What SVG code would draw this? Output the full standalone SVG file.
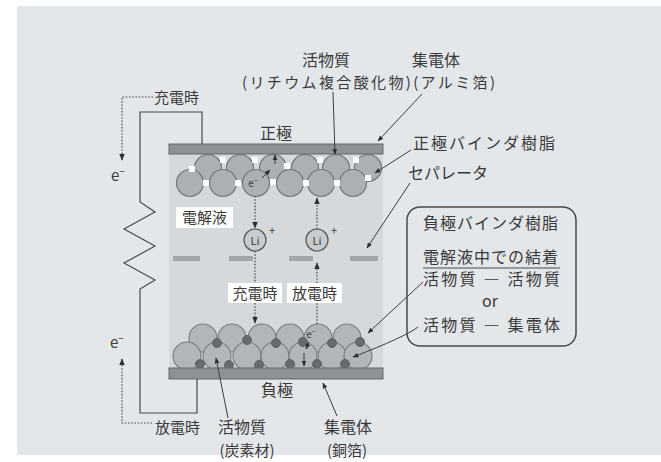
<svg xmlns="http://www.w3.org/2000/svg" width="661" height="462" viewBox="0 0 661 462">
  <defs>
    <style>
      text { font-family: "Noto Sans CJK JP", "Noto Sans", sans-serif; fill: #3a3a3a; }
      .lbl { font-size: 15px; }
      .lbl16 { font-size: 16px; }
      .box { font-size: 16px; text-anchor: middle; }
      .mid { text-anchor: middle; }
      .wire { fill: none; stroke: #4a4a4a; stroke-width: 1.2; }
      .lead { fill: none; stroke: #3d3d3d; stroke-width: 1; }
      .dot { fill: none; stroke: #4a4a4a; stroke-width: 1.2; stroke-dasharray: 1.6 1.6; }
      .bar { fill: #8f9295; stroke: #63666a; stroke-width: 1; }
      .pp { fill: #adb0b3; stroke: #74777a; stroke-width: 1.2; }
      .np { fill: #b3b6b9; stroke: #7a7d80; stroke-width: 1.2; }
      .wsq { fill: #ffffff; }
      .bind { fill: #686b6e; stroke: #55585b; stroke-width: 0.8; }
      .sep { fill: #a4a7aa; }
      .li { fill: #c9ccce; stroke: #555; stroke-width: 1.2; }
      .tag { fill: #ffffff; }
    </style>
    <marker id="arr" viewBox="0 0 10 10" refX="9" refY="5" markerWidth="6" markerHeight="6" orient="auto-start-reverse">
      <path d="M0,1 L10,5 L0,9 z" fill="#2f2f2f"/>
    </marker>
  </defs>

  <!-- backdrop -->
  <rect x="0" y="0" width="661" height="462" fill="#ffffff"/>
  <rect x="17" y="6" width="644" height="449" fill="#e4e7ea"/>

  <!-- cell body -->
  <g id="cell">
    <rect x="169" y="150" width="214" height="224" fill="#d6d9dc"/>
  </g>

  <!-- separator -->
  <g id="separator">
    <rect class="sep" x="173" y="256" width="27" height="5"/>
    <rect class="sep" x="229" y="256" width="24" height="5"/>
    <rect class="sep" x="289" y="256" width="24" height="5"/>
    <rect class="sep" x="350" y="256" width="28" height="5"/>
  </g>

  <!-- positive electrode: active material + conductive additive -->
  <g id="positive-active">
    <circle class="pp" cx="208" cy="168" r="13.5"/>
    <circle class="pp" cx="240" cy="168" r="13.5"/>
    <circle class="pp" cx="273" cy="168" r="13.5"/>
    <circle class="pp" cx="305" cy="168" r="13.5"/>
    <circle class="pp" cx="336" cy="168" r="13.5"/>
    <circle class="pp" cx="368" cy="168" r="13.5"/>
    <circle class="pp" cx="190" cy="183" r="13.5"/>
    <circle class="pp" cx="223" cy="183" r="13.5"/>
    <circle class="pp" cx="256" cy="183" r="13.5"/>
    <circle class="pp" cx="290" cy="183" r="13.5"/>
    <circle class="pp" cx="321" cy="183" r="13.5"/>
    <circle class="pp" cx="353" cy="183" r="13.5"/>
    <rect class="wsq" x="189" y="166" width="6" height="6"/>
    <rect class="wsq" x="203" y="180" width="6" height="6"/>
    <rect class="wsq" x="220" y="157" width="6" height="6"/>
    <rect class="wsq" x="235" y="180" width="6" height="6"/>
    <rect class="wsq" x="252" y="157" width="6" height="6"/>
    <rect class="wsq" x="270" y="179" width="6" height="6"/>
    <rect class="wsq" x="284" y="163" width="6" height="6"/>
    <rect class="wsq" x="303" y="180" width="6" height="6"/>
    <rect class="wsq" x="317" y="157" width="6" height="6"/>
    <rect class="wsq" x="334" y="180" width="6" height="6"/>
    <rect class="wsq" x="353" y="157" width="6" height="6"/>
    <rect class="wsq" x="365" y="175" width="6" height="6"/>
    <text x="253" y="187" font-size="10" class="mid">e<tspan font-size="7" dy="-4">−</tspan></text>
  </g>

  <g id="positive-collector">
    <rect class="bar" x="169" y="144" width="214" height="10"/>
  </g>

  <!-- negative electrode: carbon particles + binder -->
  <g id="negative-active">
    <circle class="np" cx="203" cy="338" r="14"/>
    <circle class="np" cx="232" cy="338" r="14"/>
    <circle class="np" cx="262" cy="338" r="14"/>
    <circle class="np" cx="290" cy="338" r="14"/>
    <circle class="np" cx="318" cy="338" r="14"/>
    <circle class="np" cx="347" cy="338" r="14"/>
    <circle class="np" cx="187" cy="356" r="14"/>
    <circle class="np" cx="217" cy="356" r="14"/>
    <circle class="np" cx="247" cy="356" r="14"/>
    <circle class="np" cx="275" cy="356" r="14"/>
    <circle class="np" cx="303" cy="356" r="14"/>
    <circle class="np" cx="332" cy="356" r="14"/>
    <circle class="np" cx="358" cy="356" r="14"/>
    <circle class="bind" cx="217" cy="343" r="4.5"/>
    <circle class="bind" cx="247" cy="340" r="4.5"/>
    <circle class="bind" cx="276" cy="343" r="4.5"/>
    <circle class="bind" cx="303" cy="342" r="4.5"/>
    <circle class="bind" cx="332" cy="343" r="4.5"/>
    <circle class="bind" cx="360" cy="342" r="4.5"/>
    <circle class="bind" cx="200" cy="364" r="4.5"/>
    <circle class="bind" cx="229" cy="365" r="4.5"/>
    <circle class="bind" cx="259" cy="365" r="4.5"/>
    <circle class="bind" cx="290" cy="364" r="4.5"/>
    <circle class="bind" cx="317" cy="364" r="4.5"/>
    <circle class="bind" cx="345" cy="364" r="4.5"/>
    <text x="311" y="338" font-size="10" class="mid">e<tspan font-size="7" dy="-4">−</tspan></text>
  </g>

  <g id="negative-collector">
    <rect class="bar" x="169" y="368" width="214" height="11"/>
  </g>

  <!-- lithium ions -->
  <g id="li-ion-charge">
    <circle class="li" cx="255" cy="240" r="11"/>
    <text x="255" y="244.5" font-size="11" class="mid">Li</text>
    <text x="272" y="235" font-size="11" class="mid">+</text>
  </g>
  <g id="li-ion-discharge">
    <circle class="li" cx="317" cy="240" r="11"/>
    <text x="317" y="244.5" font-size="11" class="mid">Li</text>
    <text x="334" y="235" font-size="11" class="mid">+</text>
  </g>

  <!-- connectors: external circuit, ion / electron paths, leader lines -->
  <g id="connectors">
    <path class="wire" d="M202,144 V112 H140 V202 L155,212 L124,229 L155,246 L124,263 L155,280 L140,289 V413 H197 V379"/>

    <path class="dot" d="M153,97 H122 V160" marker-end="url(#arr)"/>
    <path class="dot" d="M152,423 H122 V359" marker-end="url(#arr)"/>

    <path class="dot" d="M255,196 V228" marker-end="url(#arr)"/>
    <path class="dot" d="M255,251 V283"/>
    <path class="dot" d="M255,303 V323" marker-end="url(#arr)"/>

    <path class="dot" d="M317,324 V303"/>
    <path class="dot" d="M317,283 V263" marker-end="url(#arr)"/>
    <path class="dot" d="M317,229 V198" marker-end="url(#arr)"/>

    <path class="lead" d="M262,178 L270,170" marker-end="url(#arr)"/>
    <path class="lead" d="M275,164 V155" marker-end="url(#arr)"/>
    <path class="lead" d="M309,342 L306,349" marker-end="url(#arr)"/>
    <path class="lead" d="M304,353 V366" marker-end="url(#arr)"/>

    <path class="lead" d="M333,92 L335,154" marker-end="url(#arr)"/>
    <path class="lead" d="M422,94 L378,141" marker-end="url(#arr)"/>
    <path class="lead" d="M411,150 L375,173" marker-end="url(#arr)"/>
    <path class="lead" d="M410,183 L367,248" marker-end="url(#arr)"/>
    <path class="lead" d="M423,282 L368,333" marker-end="url(#arr)"/>
    <path class="lead" d="M418,327 Q405,337 353,357" marker-end="url(#arr)"/>
    <path class="lead" d="M228,418 L216,358" marker-end="url(#arr)"/>
    <path class="lead" d="M337,416 L323,383" marker-end="url(#arr)"/>
  </g>

  <!-- labels -->
  <g id="label-active-positive">
    <text class="lbl16 mid" x="326" y="66">活物質</text>
    <text class="lbl" x="242" y="88" textLength="253" lengthAdjust="spacing">(リチウム複合酸化物)(アルミ箔)</text>
  </g>
  <g id="label-collector-positive">
    <text class="lbl16 mid" x="436" y="66">集電体</text>
  </g>
  <g id="label-charge-top">
    <text class="lbl" x="154" y="103">充電時</text>
  </g>
  <g id="label-positive">
    <text class="lbl16 mid" x="276" y="139">正極</text>
  </g>
  <g id="label-positive-binder">
    <text class="lbl16" x="413" y="149" letter-spacing="2">正極バインダ樹脂</text>
  </g>
  <g id="label-separator">
    <text class="lbl16" x="408" y="179">セパレータ</text>
  </g>
  <g id="label-electrolyte">
    <rect class="tag" x="176" y="207" width="57" height="21"/>
    <text class="lbl mid" x="204.5" y="223">電解液</text>
  </g>
  <g id="label-charge-mid">
    <rect class="tag" x="228" y="283" width="54" height="20"/>
    <text class="lbl mid" x="255" y="299">充電時</text>
  </g>
  <g id="label-discharge-mid">
    <rect class="tag" x="287" y="283" width="55" height="20"/>
    <text class="lbl mid" x="314.5" y="299">放電時</text>
  </g>
  <g id="label-negative">
    <text class="lbl16 mid" x="277" y="396">負極</text>
  </g>
  <g id="label-discharge-bottom">
    <text class="lbl" x="155" y="433">放電時</text>
  </g>
  <g id="label-active-negative">
    <text class="lbl16 mid" x="242" y="433">活物質</text>
    <text class="lbl mid" x="247" y="456">(炭素材)</text>
  </g>
  <g id="label-collector-negative">
    <text class="lbl16 mid" x="348" y="433">集電体</text>
    <text class="lbl mid" x="347" y="456">(銅箔)</text>
  </g>
  <g id="label-e-top">
    <text class="lbl" x="111" y="181">e<tspan font-size="10" dy="-6">−</tspan></text>
  </g>
  <g id="label-e-bottom">
    <text class="lbl" x="110" y="348">e<tspan font-size="10" dy="-6">−</tspan></text>
  </g>

  <!-- negative binder callout -->
  <g id="negative-binder-box">
    <rect x="407" y="207" width="169" height="139" rx="13" ry="13" fill="none" stroke="#4a4a4a" stroke-width="1.5"/>
    <text class="box" x="491" y="229" letter-spacing="1">負極バインダ樹脂</text>
    <text class="box" x="491" y="263" letter-spacing="1">電解液中での結着</text>
    <line x1="423" y1="268" x2="560" y2="268" stroke="#4a4a4a" stroke-width="1.2"/>
    <text x="423" y="285" font-size="16" textLength="137" lengthAdjust="spacing">活物質 ― 活物質</text>
    <text class="box" x="490" y="307" font-size="13">or</text>
    <text x="423" y="331" font-size="16" textLength="137" lengthAdjust="spacing">活物質 ― 集電体</text>
  </g>
</svg>
